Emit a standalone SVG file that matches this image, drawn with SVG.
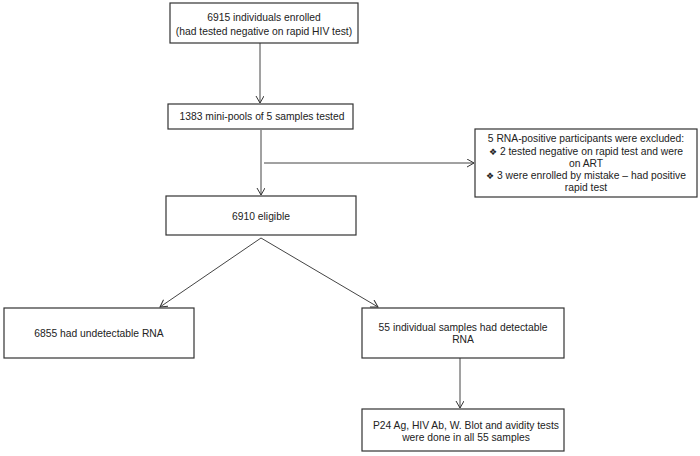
<svg xmlns="http://www.w3.org/2000/svg" width="700" height="456" viewBox="0 0 700 456">
<defs>
<marker id="arr" markerWidth="10" markerHeight="10" refX="8" refY="4" orient="auto" markerUnits="userSpaceOnUse">
<path d="M1,0 L8,4 L1,8" fill="none" stroke="#333" stroke-width="1"/>
</marker>
</defs>
<style>
rect{fill:#fff;stroke:#333;stroke-width:1.2}
text{font-family:"Liberation Sans",Arial,sans-serif;font-size:10.3px;fill:#222;text-anchor:middle}
.b{font-family:"DejaVu Sans",sans-serif;font-size:9px}
.c line{stroke:#444;stroke-width:1;marker-end:url(#arr)}
</style>
<rect x="0" y="0" width="700" height="456" style="stroke:none;fill:#fff"/>
<g class="c" id="connectors">
<line x1="260" y1="43" x2="260" y2="103"/>
<line x1="261" y1="130" x2="261" y2="195"/>
<line x1="264" y1="163" x2="474" y2="163"/>
<line x1="261" y1="238" x2="160" y2="307"/>
<line x1="261" y1="238" x2="378" y2="307"/>
<line x1="460" y1="358" x2="460" y2="408"/>
</g>
<g id="n1"><rect x="170" y="3" width="188" height="40"/>
<text x="264" y="20.5">6915 individuals  enrolled</text>
<text x="264" y="34.5">(had tested negative  on rapid HIV test)</text></g>
<g id="n2"><rect x="168" y="104" width="185" height="25"/>
<text x="262" y="120">1383 mini-pools  of 5 samples tested</text></g>
<g id="n3"><rect x="475" y="129" width="222" height="68"/>
<text x="586" y="141.5">5 RNA-positive  participants were excluded:</text>
<text x="586" y="154.5"><tspan class="b">❖</tspan> 2 tested negative on rapid  test and were</text>
<text x="586" y="166.5">on ART</text>
<text x="586" y="178.5"><tspan class="b">❖</tspan> 3 were enrolled  by mistake – had positive</text>
<text x="586" y="190.5">rapid test</text></g>
<g id="n4"><rect x="166" y="196" width="190" height="39"/>
<text x="261" y="219.5">6910 eligible</text></g>
<g id="n5"><rect x="4" y="308" width="190" height="50"/>
<text x="99" y="337">6855 had undetectable RNA</text></g>
<g id="n6"><rect x="362" y="308" width="202" height="50"/>
<text x="463" y="330.5">55 individual  samples had detectable</text>
<text x="463" y="343">RNA</text></g>
<g id="n7"><rect x="362" y="409" width="202" height="42"/>
<text x="466" y="428.5">P24 Ag, HIV Ab, W. Blot and avidity tests</text>
<text x="466" y="441">were done in all 55 samples</text></g>
</svg>
